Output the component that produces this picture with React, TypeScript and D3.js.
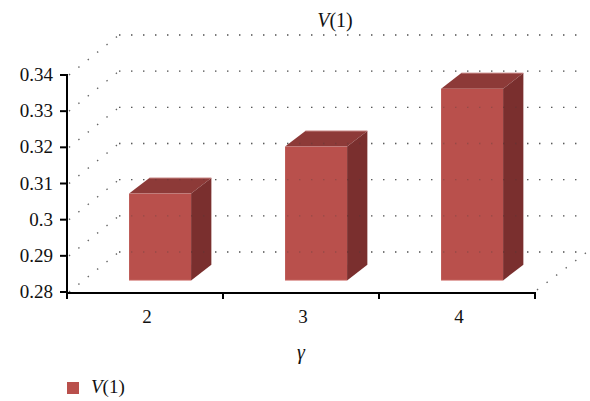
import React from "react";
import * as d3 from "d3";

const categories = ["2", "3", "4"];
const values = [0.304, 0.317, 0.333];
const yTicks = [0.28, 0.29, 0.3, 0.31, 0.32, 0.33, 0.34];
const yTickLabels = ["0.28", "0.29", "0.3", "0.31", "0.32", "0.33", "0.34"];
const seriesName = "V(1)";
const xTitle = "γ";

const W = 590;
const H = 401;
const DX = 52;
const DY = -40;
const D0 = 0.29;
const D1 = 0.68;

export default function App() {
  const x = d3.scaleBand<string>().domain(categories).range([67, 535]);
  const y = d3.scaleLinear().domain([0.28, 0.34]).range([292, 75]);
  const barW = 62;
  const font = "Liberation Serif, Times New Roman, Times, serif";
  const dot = { stroke: "#666", strokeWidth: 1.4, strokeDasharray: "1.4 10.6", fill: "none" };
  const dotOver = { stroke: "rgba(60,60,60,0.28)", strokeWidth: 1.4, strokeDasharray: "1.4 10.6", fill: "none" };

  const bars = categories.map((c, i) => {
    const cx = (x(c) as number) + x.bandwidth() / 2;
    const fx0 = cx + DX * D0 - barW / 2;
    const fx1 = fx0 + barW;
    const ftop = y(values[i]) + DY * D0;
    const fbot = y(0.28) + DY * D0;
    const ox = DX * (D1 - D0);
    const oy = DY * (D1 - D0);
    return { fx0, fx1, ftop, fbot, ox, oy };
  });

  const backLines = yTicks.map((t) => (
    <line key={"b" + t} x1={67 + DX} x2={535 + DX} y1={y(t) + DY} y2={y(t) + DY} />
  ));

  return (
    <svg width={W} height={H} style={{ position: "absolute", left: 0, top: 0, fontFamily: font }}>
      <rect width={W} height={H} fill="#fff" />
      <g {...dot}>{backLines}</g>
      <g {...dot}>
        {yTicks.map((t) => (
          <line key={"l" + t} x1={69} y1={y(t)} x2={67 + DX} y2={y(t) + DY} />
        ))}
        <line x1={537} y1={y(0.28) - 2} x2={535 + DX} y2={y(0.28) + DY} />
      </g>
      {bars.map((b, i) => (
        <g key={i}>
          <polygon
            points={`${b.fx0},${b.ftop} ${b.fx0 + b.ox},${b.ftop + b.oy} ${b.fx1 + b.ox},${b.ftop + b.oy} ${b.fx1},${b.ftop}`}
            fill="#8D3A38"
          />
          <polygon
            points={`${b.fx1},${b.ftop} ${b.fx1 + b.ox},${b.ftop + b.oy} ${b.fx1 + b.ox},${b.fbot + b.oy} ${b.fx1},${b.fbot}`}
            fill="#7A2F2E"
          />
          <rect x={b.fx0} y={b.ftop} width={barW} height={b.fbot - b.ftop} fill="#B9504C" />
          <line x1={b.fx0} x2={b.fx1} y1={b.fbot} y2={b.fbot} stroke="#E2A6A4" strokeWidth={1} />
          <line x1={b.fx0 + b.ox} x2={b.fx1 + b.ox} y1={b.ftop + b.oy} y2={b.ftop + b.oy} stroke="#C98A88" strokeWidth={1} />
        </g>
      ))}
      <g {...dotOver}>{backLines}</g>
      <line x1={67} x2={67} y1={y(0.34) - 1} y2={y(0.28) + 1} stroke="#000" strokeWidth={2} />
      {yTicks.map((t, i) => (
        <g key={"yt" + t}>
          <line x1={60} x2={67} y1={y(t)} y2={y(t)} stroke="#000" strokeWidth={2} />
          <text x={53} y={y(t) + 6} textAnchor="end" fontSize={19} fill="#111">
            {yTickLabels[i]}
          </text>
        </g>
      ))}
      <line x1={66} x2={536} y1={y(0.28) + 1} y2={y(0.28) + 1} stroke="#000" strokeWidth={2} />
      {[...categories.map((c) => x(c) as number), 535].map((v, i) => (
        <line key={"xt" + i} x1={v} x2={v} y1={y(0.28)} y2={y(0.28) + 7} stroke="#000" strokeWidth={2} />
      ))}
      {categories.map((c) => (
        <text key={"xl" + c} x={(x(c) as number) + x.bandwidth() / 2 + 2} y={323} textAnchor="middle" fontSize={19} fill="#111">
          {c}
        </text>
      ))}
      <text x={301} y={359} textAnchor="middle" fontSize={20} fontStyle="italic" fill="#111">
        {xTitle}
      </text>
      <text x={335} y={27} textAnchor="middle" fontSize={20} fill="#111">
        <tspan fontStyle="italic">V</tspan>(1)
      </text>
      <rect x={67} y={382} width={12} height={12} fill="#B9504C" />
      <text x={91} y={393} fontSize={19} fill="#111">
        <tspan fontStyle="italic">{seriesName.charAt(0)}</tspan>
        {seriesName.slice(1)}
      </text>
    </svg>
  );
}
